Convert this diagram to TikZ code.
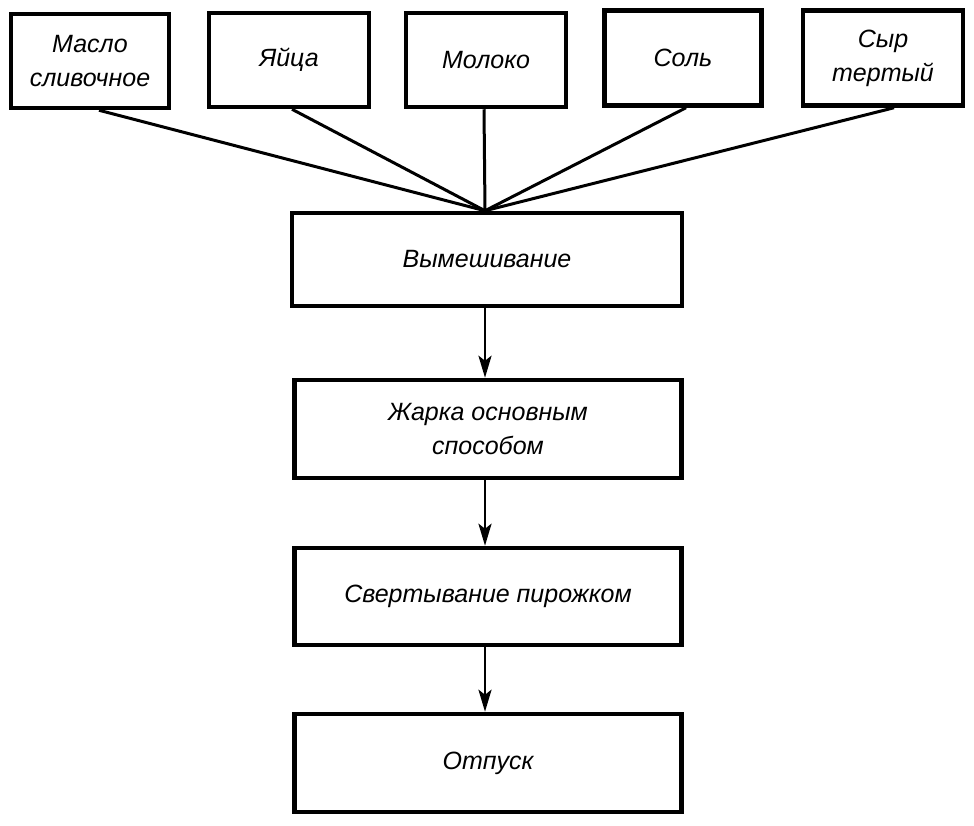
\documentclass[tikz,border=0pt]{standalone}
\usepackage{fontspec}
\setmainfont{Liberation Sans}
\usetikzlibrary{arrows.meta}
\begin{document}
\begin{tikzpicture}[x=1pt,y=-1pt,
  box/.style={draw,line width=4.5pt,inner sep=0pt,align=center,font=\fontsize{25}{34}\selectfont\itshape},
  feed/.style={line width=3pt},
  flow/.style={line width=2.8pt,-{Stealth[length=22pt,width=13pt,inset=5pt]}}]
\useasboundingbox[fill=white] (0,0) rectangle (974,825);
\node[box,minimum width=158pt,minimum height=94pt] (b1) at (90,61) {Масло\\сливочное};
\node[box,minimum width=160pt,minimum height=94pt] (b2) at (289,60) {Яйца};
\node[box,minimum width=160pt,minimum height=94pt] (b3) at (486,60) {Молоко};
\node[box,minimum width=157pt,minimum height=95pt] (b4) at (683,58) {Соль};
\node[box,minimum width=160pt,minimum height=95pt] (b5) at (883,58) {Сыр\\тертый};
\node[box,minimum width=390pt,minimum height=93pt] (m) at (487,259.5) {Вымешивание};
\node[box,minimum width=387pt,minimum height=98pt] (f) at (488,429) {Жарка основным\\способом};
\node[box,minimum width=387pt,minimum height=97pt] (s) at (488,596.5) {Свертывание пирожком};
\node[box,minimum width=387pt,minimum height=98pt] (o) at (488,763) {Отпуск};
\coordinate (s1) at ([xshift=9pt]b1.south);
\coordinate (s2) at ([xshift=3pt]b2.south);
\coordinate (s3) at ([xshift=-2pt]b3.south);
\coordinate (s4) at ([xshift=3pt]b4.south);
\coordinate (s5) at ([xshift=11pt]b5.south);
\coordinate (j) at ([xshift=-2pt]m.north);
\foreach \i in {1,...,5} \draw[feed] (s\i) -- (j);
\draw[flow] ([xshift=-2pt]m.south) -- ([xshift=-3pt]f.north);
\draw[flow] ([xshift=-3pt]f.south) -- ([xshift=-3pt]s.north);
\draw[flow] ([xshift=-3pt]s.south) -- ([xshift=-3pt]o.north);
\end{tikzpicture}
\end{document}
